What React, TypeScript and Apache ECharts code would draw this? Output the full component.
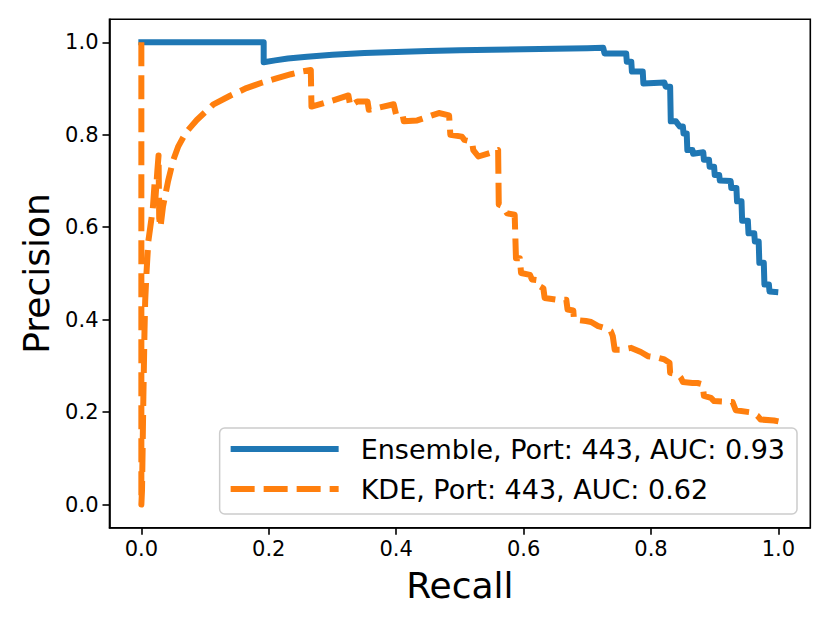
import React, { useEffect, useRef } from "react";
import * as echarts from "echarts";

const xTicks = [0, 0.2, 0.4, 0.6, 0.8, 1.0];
const yTicks = [0, 0.2, 0.4, 0.6, 0.8, 1.0];

const seriesNames = ["Ensemble, Port: 443, AUC: 0.93", "KDE, Port: 443, AUC: 0.62"];

const ensembleRecall = [
  0, 0.192, 0.192, 0.21, 0.23, 0.26, 0.3, 0.35, 0.4, 0.45, 0.5, 0.55, 0.6, 0.65, 0.7, 0.725,
  0.727, 0.761, 0.762, 0.769, 0.77, 0.787, 0.788, 0.821, 0.823, 0.83, 0.831, 0.839, 0.845, 0.85,
  0.851, 0.856, 0.857, 0.865, 0.866, 0.882, 0.883, 0.891, 0.892, 0.899, 0.9, 0.907, 0.908, 0.925,
  0.926, 0.934, 0.935, 0.942, 0.943, 0.952, 0.953, 0.962, 0.963, 0.969, 0.97, 0.977, 0.978, 0.985,
  0.986, 0.995,
];
const ensemblePrecision = [
  1.0, 1.0, 0.957, 0.961, 0.965, 0.969, 0.973, 0.977, 0.979, 0.981, 0.983, 0.984, 0.985, 0.986, 0.987, 0.988,
  0.976, 0.976, 0.958, 0.958, 0.937, 0.937, 0.911, 0.913, 0.904, 0.904, 0.829, 0.829, 0.818, 0.818,
  0.803, 0.803, 0.767, 0.767, 0.759, 0.762, 0.746, 0.746, 0.731, 0.731, 0.713, 0.713, 0.701, 0.7,
  0.685, 0.685, 0.656, 0.656, 0.614, 0.614, 0.587, 0.587, 0.569, 0.569, 0.523, 0.523, 0.476, 0.476,
  0.461, 0.46,
];

const kdeRecall = [
  0, 0, 0.001, 0.002, 0.003, 0.004, 0.005, 0.006, 0.008, 0.011, 0.014, 0.018, 0.021, 0.022, 0.025,
  0.027, 0.028, 0.03, 0.034, 0.042, 0.05, 0.058, 0.07, 0.087, 0.1125, 0.14, 0.165, 0.19, 0.212,
  0.235, 0.253, 0.266, 0.267, 0.3, 0.325, 0.328, 0.339, 0.355, 0.357, 0.396, 0.4, 0.41, 0.412,
  0.433, 0.467, 0.483, 0.485, 0.503, 0.507, 0.519, 0.521, 0.529, 0.55, 0.56, 0.561, 0.568, 0.574,
  0.586, 0.588, 0.594, 0.596, 0.61, 0.613, 0.624, 0.626, 0.631, 0.633, 0.654, 0.667, 0.669, 0.678,
  0.679, 0.698, 0.706, 0.717, 0.727, 0.737, 0.74, 0.743, 0.754, 0.769, 0.784, 0.795, 0.81, 0.821,
  0.829, 0.83, 0.842, 0.847, 0.85, 0.865, 0.873, 0.881, 0.883, 0.894, 0.899, 0.928, 0.933, 0.959,
  0.967, 0.972, 0.993, 1.0,
];
const kdePrecision = [
  1.0, 0.0, 0.03, 0.12, 0.22, 0.3, 0.38, 0.44, 0.5, 0.57, 0.6, 0.64, 0.7, 0.66, 0.72,
  0.755, 0.62, 0.6, 0.645, 0.7, 0.745, 0.775, 0.805, 0.832, 0.865, 0.885, 0.901, 0.913, 0.922,
  0.931, 0.937, 0.94, 0.861, 0.874, 0.885, 0.862, 0.872, 0.872, 0.854, 0.866, 0.843, 0.843, 0.829,
  0.831, 0.847, 0.842, 0.8, 0.796, 0.789, 0.785, 0.767, 0.753, 0.762, 0.767, 0.649, 0.645, 0.63,
  0.627, 0.533, 0.533, 0.501, 0.497, 0.487, 0.485, 0.472, 0.468, 0.447, 0.443, 0.443, 0.422, 0.42,
  0.4, 0.397, 0.395, 0.386, 0.382, 0.375, 0.364, 0.335, 0.335, 0.339, 0.33, 0.321, 0.318, 0.314,
  0.307, 0.285, 0.282, 0.274, 0.265, 0.263, 0.263, 0.26, 0.235, 0.231, 0.224, 0.222, 0.204, 0.199,
  0.192, 0.184, 0.182, 0.18,
];

const FONT = "DejaVu Sans";
const BLUE = "#1f77b4";
const ORANGE = "#ff7f0e";
const LW = 6;
const DASH = [24, 9];

function zip(xs: number[], ys: number[]) {
  return xs.map((x, i) => [x, ys[i]]);
}

export default function App() {
  const ref = useRef<HTMLDivElement>(null);
  useEffect(() => {
    if (!ref.current) return;
    const chart = echarts.init(ref.current, undefined, { renderer: "svg" });
    const axisCommon = {
      type: "value" as const,
      min: -0.05,
      max: 1.05,
      splitLine: { show: false },
      axisLine: { show: true, onZero: false, lineStyle: { color: "#000", width: 1.6 } },
      axisTick: { show: true, inside: false, length: 7, lineStyle: { color: "#000", width: 1.6 } },
      nameTextStyle: { fontFamily: FONT, fontSize: 36, color: "#000" },
    };
    chart.setOption({
      animation: false,
      backgroundColor: "#fff",
      grid: {
        left: 109.5,
        right: 19.7,
        top: 19.2,
        bottom: 95.3,
        show: true,
        borderColor: "#000",
        borderWidth: 1.6,
        backgroundColor: "transparent",
      },
      xAxis: {
        ...axisCommon,
        name: "Recall",
        nameLocation: "middle",
        nameGap: 40,
        axisTick: { ...axisCommon.axisTick, customValues: xTicks },
        axisLabel: {
          customValues: xTicks,
          formatter: (v: number) => v.toFixed(1),
          fontFamily: FONT,
          fontSize: 21,
          color: "#000",
          margin: 11,
        },
      },
      yAxis: {
        ...axisCommon,
        name: "Precision",
        nameLocation: "middle",
        nameGap: 52,
        axisTick: { ...axisCommon.axisTick, customValues: yTicks },
        axisLabel: {
          customValues: yTicks,
          formatter: (v: number) => v.toFixed(1),
          fontFamily: FONT,
          fontSize: 21,
          color: "#000",
          margin: 11,
        },
      },
      legend: {
        orient: "vertical",
        right: 830 - 797,
        bottom: 623 - 514,
        itemWidth: 108,
        itemHeight: 20,
        itemGap: 10,
        padding: [6, 12, 10, 8],
        backgroundColor: "rgba(255,255,255,0.8)",
        borderColor: "#cccccc",
        borderWidth: 1.5,
        borderRadius: 5,
        itemStyle: { opacity: 0, borderWidth: 0 },
        lineStyle: { width: LW },
        textStyle: {
          fontFamily: FONT,
          fontSize: 27,
          color: "#000",
          lineHeight: 30,
          padding: [0, 0, 0, 17],
        },
        data: [
          {
            name: seriesNames[0],
            itemStyle: { opacity: 0, borderWidth: 0 },
            lineStyle: { color: BLUE, width: LW, type: "solid", cap: "butt" },
          },
          {
            name: seriesNames[1],
            itemStyle: { opacity: 0, borderWidth: 0 },
            lineStyle: { color: ORANGE, width: LW, type: DASH, cap: "butt" },
          },
        ],
      },
      series: [
        {
          name: seriesNames[0],
          type: "line",
          data: zip(ensembleRecall, ensemblePrecision),
          symbol: "none",
          showSymbol: false,
          smooth: false,
          color: BLUE,
          lineStyle: { color: BLUE, width: LW, cap: "square", join: "round" },
        },
        {
          name: seriesNames[1],
          type: "line",
          data: zip(kdeRecall, kdePrecision),
          symbol: "none",
          showSymbol: false,
          smooth: false,
          color: ORANGE,
          lineStyle: { color: ORANGE, width: LW, type: DASH, cap: "butt", join: "round" },
        },
      ],
    });
    return () => chart.dispose();
  }, []);
  return (
    <div
      ref={ref}
      style={{ position: "fixed", left: 0, top: 0, width: 830, height: 623, background: "#fff" }}
    />
  );
}
